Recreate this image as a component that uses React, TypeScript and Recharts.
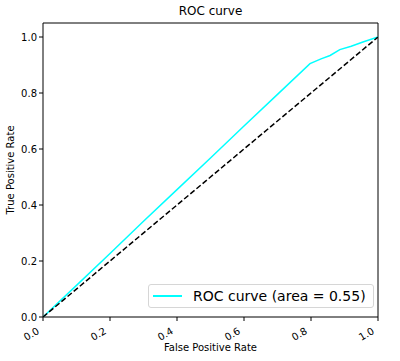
import { LineChart, Line, XAxis, YAxis, ReferenceArea } from "recharts";

const fpr = [0, 0.1, 0.2, 0.3, 0.4, 0.5, 0.6, 0.7, 0.797, 0.83, 0.857, 0.886, 0.92, 0.955, 1];
const tpr = [0, 0.113, 0.227, 0.342, 0.455, 0.568, 0.682, 0.795, 0.905, 0.922, 0.934, 0.955, 0.967, 0.982, 1];
const chanceX = [0, 1];
const chanceY = [0, 1];
const xTicks = [0, 0.2, 0.4, 0.6, 0.8, 1.0];
const yTicks = [0, 0.2, 0.4, 0.6, 0.8, 1.0];

const rocData = fpr.map((x, i) => ({ x, y: tpr[i] }));
const chanceData = chanceX.map((x, i) => ({ x, y: chanceY[i] }));

const font = "'DejaVu Sans', sans-serif";

// x tick labels slanted like autofmt_xdate, right end at the tick
function RotatedTick(props: any) {
    const { x, y, payload } = props;
    const ax = x - 3;
    const ay = y + 10;
    return (
        <text
            x={ax}
            y={ay}
            transform={`rotate(-30, ${ax}, ${ay})`}
            textAnchor="end"
            fontSize={10}
            fill="#000"
            fontFamily={font}
        >
            {payload.value.toFixed(1)}
        </text>
    );
}

export default function App() {
    return (
        <div style={{ position: "absolute", left: 0, top: 0, width: 400, height: 361, background: "#fff" }}>
            <LineChart
                width={400}
                height={361}
                margin={{ top: 23, right: 22, bottom: 0, left: 0 }}
            >
                <XAxis
                    type="number"
                    dataKey="x"
                    domain={[0, 1]}
                    ticks={xTicks}
                    height={44}
                    axisLine={false}
                    tickLine={{ stroke: "#000" }}
                    tickSize={4}
                    tick={<RotatedTick />}
                    allowDataOverflow
                />
                <YAxis
                    type="number"
                    dataKey="y"
                    domain={[0, 1.05]}
                    ticks={yTicks}
                    width={43}
                    axisLine={false}
                    tickLine={{ stroke: "#000" }}
                    tickSize={4}
                    tickFormatter={(v: number) => v.toFixed(1)}
                    tick={{ fontSize: 10, fill: "#000", fontFamily: font }}
                    allowDataOverflow
                />
                <Line
                    data={rocData}
                    dataKey="y"
                    stroke="#00ffff"
                    strokeWidth={1.5}
                    dot={false}
                    type="linear"
                    isAnimationActive={false}
                />
                <Line
                    data={chanceData}
                    dataKey="y"
                    stroke="#000"
                    strokeWidth={1.5}
                    strokeDasharray="5.5 2.5"
                    dot={false}
                    type="linear"
                    isAnimationActive={false}
                />
                <ReferenceArea
                    x1={0}
                    x2={1}
                    y1={0}
                    y2={1.05}
                    fill="none"
                    stroke="#000"
                    strokeWidth={1}
                    ifOverflow="visible"
                />
            </LineChart>
            <div
                style={{
                    position: "absolute",
                    left: 148,
                    top: 284,
                    display: "flex",
                    alignItems: "center",
                    border: "1px solid #d6d6d6",
                    borderRadius: 3,
                    background: "#fff",
                    padding: "3px 7px 3px 4px",
                    fontFamily: font,
                    fontSize: 14,
                    color: "#000",
                }}
            >
                <span style={{ width: 29, height: 2, background: "#00ffff", marginRight: 11 }} />
                ROC curve (area = 0.55)
            </div>
            <div
                style={{
                    position: "absolute",
                    left: 43,
                    width: 335,
                    top: 4,
                    textAlign: "center",
                    fontFamily: font,
                    fontSize: 12,
                    color: "#000",
                }}
            >
                ROC curve
            </div>
            <div
                style={{
                    position: "absolute",
                    left: 43,
                    width: 335,
                    top: 342,
                    textAlign: "center",
                    fontFamily: font,
                    fontSize: 10,
                    color: "#000",
                }}
            >
                False Positive Rate
            </div>
            <div
                style={{
                    position: "absolute",
                    left: 10,
                    top: 170,
                    transform: "translate(-50%, -50%) rotate(-90deg)",
                    whiteSpace: "nowrap",
                    fontFamily: font,
                    fontSize: 10,
                    color: "#000",
                }}
            >
                True Positive Rate
            </div>
        </div>
    );
}
